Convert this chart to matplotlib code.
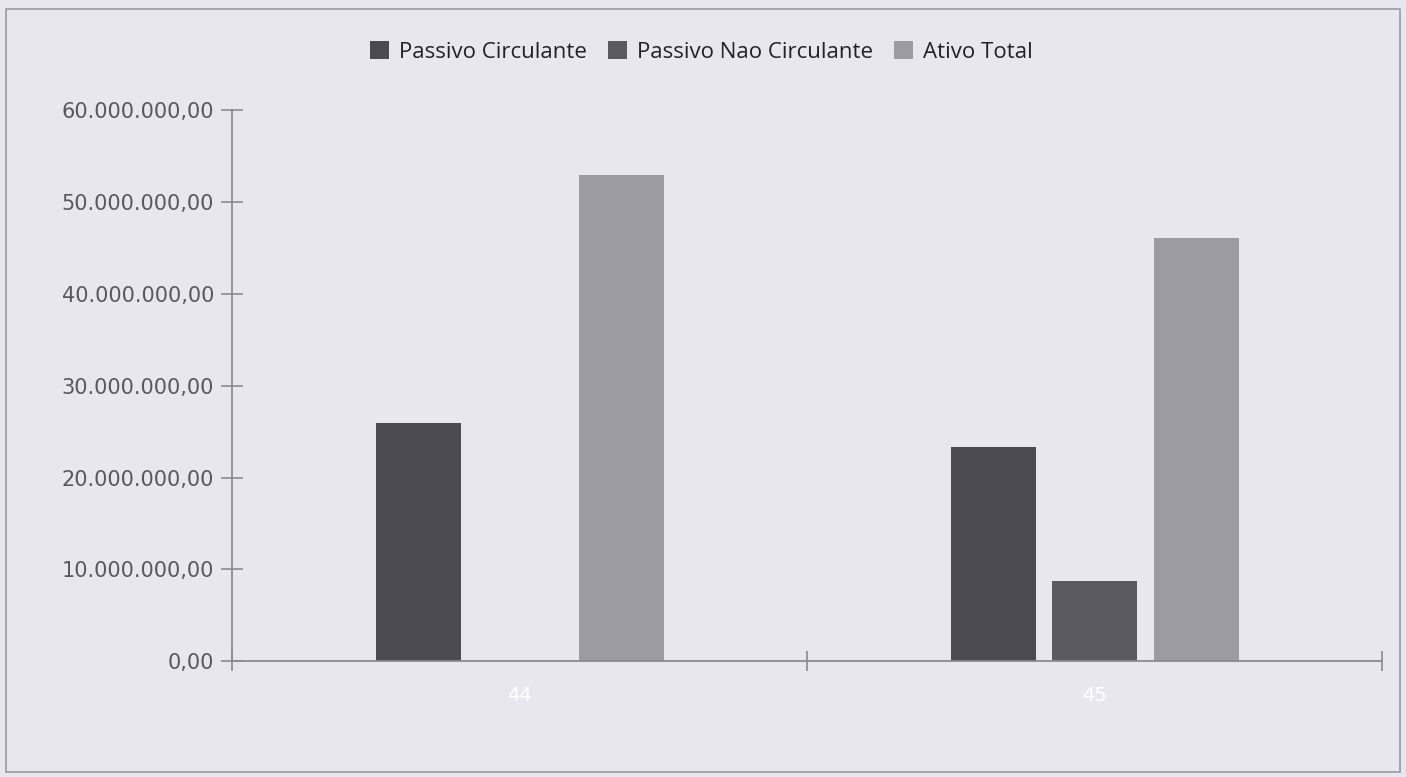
import matplotlib.pyplot as plt
import numpy as np
from matplotlib.patches import Rectangle
from matplotlib.ticker import FuncFormatter

# data
categories = ["44", "45"]
series = ["Passivo Circulante", "Passivo Nao Circulante", "Ativo Total"]
passivo_circulante = [26_000_000, 23_300_000]
passivo_nao_circulante = [0, 8_700_000]
ativo_total = [53_000_000, 46_100_000]

COLORS = ["#4b4a52", "#5b5a61", "#9c9ba2"]
BG = "#e8e7ef"
AXIS = "#8a8a90"


def br_fmt(v, _pos):
    s = f"{v:,.2f}"
    return s.replace(",", "X").replace(".", ",").replace("X", ".")


fig = plt.figure(figsize=(14.06, 7.77), dpi=100, facecolor=BG)
ax = fig.add_axes([0.165, 0.149, 0.818, 0.709])
ax.set_facecolor(BG)

x = np.arange(len(categories))
width = 0.148
offsets = [-0.175, 0.0, 0.177]
values = [passivo_circulante, passivo_nao_circulante, ativo_total]
for vals, off, col, name in zip(values, offsets, COLORS, series):
    ax.bar(x + off, vals, width=width, color=col, label=name, zorder=2)

ax.set_xlim(-0.5, 1.5)
ax.set_ylim(0, 60_000_000)
ax.set_yticks(np.arange(0, 60_000_001, 10_000_000))
ax.yaxis.set_major_formatter(FuncFormatter(br_fmt))

ax.set_xticks([-0.5, 0.5, 1.5])
ax.set_xticklabels([])
ax.set_xticks(x, minor=True)
ax.set_xticklabels(categories, minor=True)
ax.tick_params(axis="x", which="minor", length=0, pad=18,
               labelsize=14, labelcolor="white")
ax.tick_params(axis="x", which="major", direction="inout", length=14,
               width=1.2, color=AXIS)
ax.tick_params(axis="y", direction="inout", length=16, width=1.2,
               color=AXIS, labelsize=15, labelcolor="#58585e", pad=5)

for side in ("top", "right"):
    ax.spines[side].set_visible(False)
for side in ("left", "bottom"):
    ax.spines[side].set_color(AXIS)
    ax.spines[side].set_linewidth(1.3)

leg = fig.legend(loc="center", bbox_to_anchor=(0.499, 0.933), ncol=3,
                 frameon=False, handlelength=0.85, handleheight=0.85,
                 handletextpad=0.45, columnspacing=0.95,
                 prop={"family": "Open Sans", "size": 16})
for t in leg.get_texts():
    t.set_color("#222228")

fig.patches.append(Rectangle((0.004, 0.006), 0.992, 0.982,
                             transform=fig.transFigure, fill=False,
                             edgecolor="#9a9aa0", linewidth=1.2))

fig.savefig("out.png", dpi=100, facecolor=BG)
